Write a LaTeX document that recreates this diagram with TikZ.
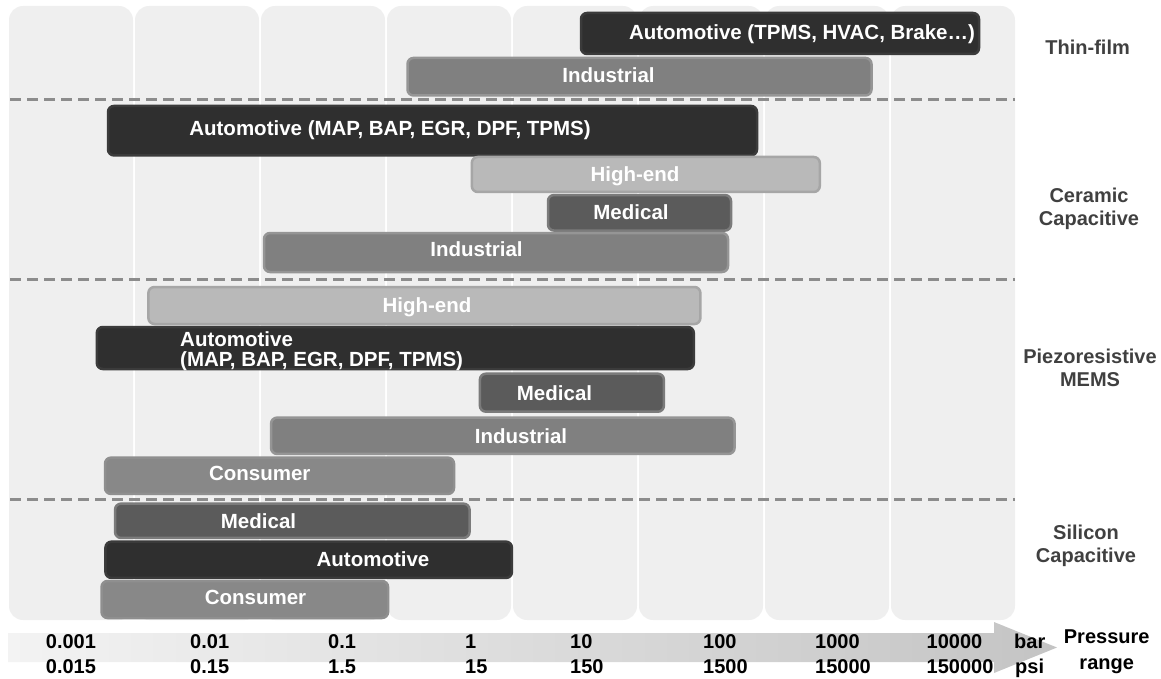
\documentclass[tikz,border=0pt]{standalone}
\usepackage{fontspec}
\setmainfont{Liberation Sans}

\definecolor{colbg}{HTML}{EFEFEF}
\definecolor{sepgray}{HTML}{8C8C8C}
\definecolor{darkfill}{HTML}{2F2F2F}
\definecolor{darkline}{HTML}{3B3B3B}
\definecolor{indfill}{HTML}{808080}
\definecolor{indline}{HTML}{959595}
\definecolor{highfill}{HTML}{B9B9B9}
\definecolor{highline}{HTML}{A6A6A6}
\definecolor{medfill}{HTML}{5B5B5B}
\definecolor{medline}{HTML}{7B7B7B}
\definecolor{consfill}{HTML}{888888}
\definecolor{consline}{HTML}{8F8F8F}
\definecolor{techgray}{HTML}{404040}
\definecolor{axisleft}{HTML}{F3F3F3}
\definecolor{axisright}{HTML}{C4C4C4}

\tikzstyle{bar} = [rectangle, rounded corners=6pt, line width=2.5pt, inner sep=0pt]
\tikzstyle{darkbar} = [bar, draw=darkline, fill=darkfill]
\tikzstyle{indbar} = [bar, draw=indline, fill=indfill]
\tikzstyle{highbar} = [bar, draw=highline, fill=highfill]
\tikzstyle{medbar} = [bar, draw=medline, fill=medfill]
\tikzstyle{consbar} = [bar, draw=consline, fill=consfill]
\tikzstyle{bartext} = [text=white, inner sep=0pt, text height=14.6pt, text depth=0pt,
    font=\bfseries\fontsize{20.5}{20}\selectfont]
\tikzstyle{techlabel} = [text=techgray, align=center, inner sep=0pt,
    font=\bfseries\fontsize{20}{23}\selectfont]
\tikzstyle{axislabel} = [anchor=west, inner sep=0pt, text height=14.3pt, text depth=0pt,
    font=\bfseries\fontsize{20}{20}\selectfont]
\tikzstyle{sepline} = [sepgray, line width=3pt, dash pattern=on 11pt off 6pt]

\begin{document}
\begin{tikzpicture}[x=1pt,y=-1pt]
      \useasboundingbox (0,0) rectangle (1161,679);

      % columns of the decades
      \foreach \i in {0,...,7}
        \fill[colbg, rounded corners=14pt] ({9+126*\i},6) rectangle ++(124,614);

      % separators
      \draw[sepline] (10,99.3) -- (1015,99.3);
      \draw[sepline] (10,279) -- (1015,279);
      \draw[sepline] (10,499) -- (1015,499);

      % thin-film
      \node[darkbar, minimum width=398pt, minimum height=41pt] (tfAuto) at (780,33.5) {};
      \node[bartext] (tfAutoT) at (802,32) {Automotive (TPMS, HVAC, Brake\dots)};
      \node[indbar, minimum width=464pt, minimum height=37.5pt] (tfInd) at (639.5,76.7) {};
      \node[bartext] (tfIndT) at (608.5,75) {Industrial};

      % ceramic capacitive
      \node[darkbar, minimum width=649pt, minimum height=49.5pt] (ccAuto) at (432.5,130.7) {};
      \node[bartext] (ccAutoT) at (390,128) {Automotive (MAP, BAP, EGR, DPF, TPMS)};
      \node[highbar, minimum width=348pt, minimum height=35pt] (ccHigh) at (645.8,174.5) {};
      \node[bartext] (ccHighT) at (635,174) {High-end};
      \node[medbar, minimum width=183pt, minimum height=35.5pt] (ccMed) at (639.5,212.8) {};
      \node[bartext] (ccMedT) at (631,212) {Medical};
      \node[indbar, minimum width=464pt, minimum height=39pt] (ccInd) at (496,252.5) {};
      \node[bartext] (ccIndT) at (476.5,249) {Industrial};

      % piezoresistive MEMS
      \node[highbar, minimum width=552pt, minimum height=37pt] (pmHigh) at (424.4,305.5) {};
      \node[bartext] (pmHighT) at (427,305) {High-end};
      \node[darkbar, minimum width=597pt, minimum height=42pt] (pmAuto) at (395.3,348) {};
      \node[bartext, anchor=north west, align=left, text height=, text depth=]
        (pmAutoT) at (180,331.5) {Automotive\\(MAP, BAP, EGR, DPF, TPMS)};
      \node[medbar, minimum width=184pt, minimum height=38pt] (pmMed) at (571.9,392.7) {};
      \node[bartext] (pmMedT) at (554.5,392.7) {Medical};
      \node[indbar, minimum width=463.5pt, minimum height=36.3pt] (pmInd) at (502.8,435.8) {};
      \node[bartext] (pmIndT) at (521,436.5) {Industrial};
      \node[consbar, minimum width=349pt, minimum height=36.3pt] (pmCons) at (279.5,475.8) {};
      \node[bartext] (pmConsT) at (259.7,473.5) {Consumer};

      % silicon capacitive
      \node[medbar, minimum width=354.5pt, minimum height=34.3pt] (scMed) at (292.3,520.8) {};
      \node[bartext] (scMedT) at (258.5,520.7) {Medical};
      \node[darkbar, minimum width=406.5pt, minimum height=36.3pt] (scAuto) at (308.7,559.8) {};
      \node[bartext] (scAutoT) at (373,559) {Automotive};
      \node[consbar, minimum width=286.5pt, minimum height=37pt] (scCons) at (244.8,599.5) {};
      \node[bartext] (scConsT) at (255.5,597.5) {Consumer};

      % technologies
      \node[techlabel] (thinfilm) at (1087.6,47.7) {Thin-film};
      \node[techlabel] (ceramic) at (1089,208.5) {Ceramic\\Capacitive};
      \node[techlabel] (piezo) at (1090,367.5) {Piezoresistive\\MEMS};
      \node[techlabel] (silicon) at (1086,545.5) {Silicon\\Capacitive};

      % pressure axis
      \shade[left color=axisleft, right color=axisright]
        (8,633) -- (994,633) -- (994,622) -- (1057,647.5) -- (994,673) -- (994,662) -- (8,662) -- cycle;
      \foreach \x/\b/\p in {45.7/0.001/0.015, 190/0.01/0.15, 328/0.1/1.5, 465/1/15,
                            570/10/150, 703/100/1500, 815/1000/15000, 926.5/10000/150000} {
        \node[axislabel] (bar\b) at (\x,641) {\b};
        \node[axislabel] (psi\p) at (\x,666.5) {\p};
      }
      \node[axislabel] (barunit) at (1014,641) {bar};
      \node[axislabel] (psiunit) at (1015,666.5) {psi};
      \node[techlabel, text=black, font=\bfseries\fontsize{20}{26}\selectfont]
        (pressure) at (1106.7,652) {Pressure\\range};
\end{tikzpicture}
\end{document}
